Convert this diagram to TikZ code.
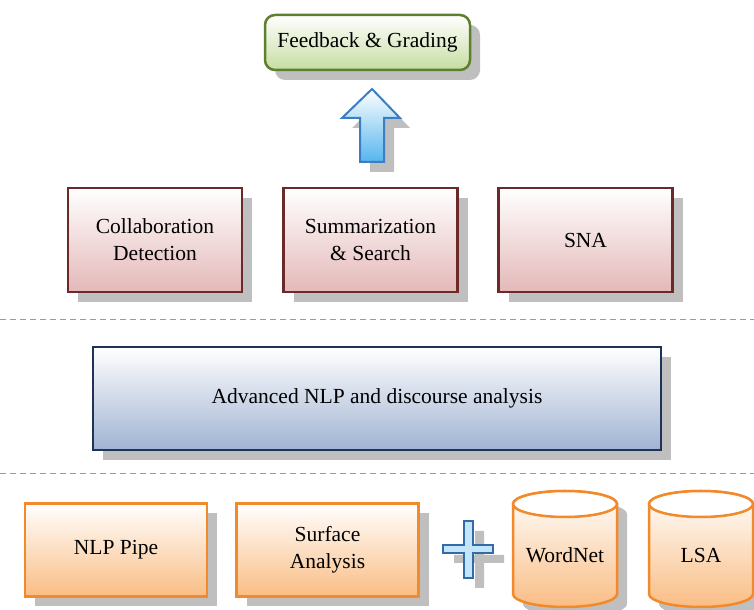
\documentclass[tikz,border=0pt]{standalone}
\usepackage{fontspec}
\setmainfont{Liberation Serif}
\usetikzlibrary{shadows}
\definecolor{shgray}{HTML}{BFBFBF}
\definecolor{grnB}{HTML}{5E7F30}
\definecolor{grnF}{HTML}{C6DDA2}
\definecolor{redB}{HTML}{6B2A2A}
\definecolor{redF}{HTML}{E4B8B8}
\definecolor{navB}{HTML}{1F3358}
\definecolor{navF}{HTML}{A0B3D2}
\definecolor{orgB}{HTML}{F2892A}
\definecolor{orgF}{HTML}{F9BD84}
\definecolor{bluB}{HTML}{3C7DC4}
\definecolor{bluF}{HTML}{55B5EE}
\definecolor{dashgray}{HTML}{9A9A9A}
\tikzset{
  lbl/.style={font=\fontsize{21.5bp}{27bp}\selectfont, align=center, text=black},
  shd/.style={drop shadow={shadow xshift=10bp, shadow yshift=-10bp, fill=shgray, opacity=1}},
  boxbase/.style={lbl, shd, rectangle, line width=2.5bp, inner sep=0pt},
  greenbox/.style={boxbase, draw=grnB, top color=white, bottom color=grnF, rounded corners=10bp},
  redbox/.style={boxbase, draw=redB, top color=white, bottom color=redF, minimum width=174bp, minimum height=104bp},
  navbox/.style={boxbase, draw=navB, top color=white, bottom color=navF},
  orgbox/.style={boxbase, draw=orgB, top color=white, bottom color=orgF, minimum width=182bp, minimum height=93bp},
  sep/.style={dashgray, line width=1bp, dash pattern=on 6bp off 4bp},
}
\begin{document}
\begin{tikzpicture}[x=1bp,y=1bp]
\useasboundingbox (0,0) rectangle (754,610);
% separators
\coordinate (s1a) at (0,290); \coordinate (s1b) at (754,290);
\coordinate (s2a) at (0,136); \coordinate (s2b) at (754,136);
\draw[sep] (s1a) -- (s1b);
\draw[sep] (s2a) -- (s2b);
% top
\node[greenbox, minimum width=205bp, minimum height=55bp] (fg) at (367.5,567.5) {Feedback \& Grading};
% arrow
\fill[shgray] (382,511) -- (410,482) -- (394,482) -- (394,438) -- (370,438) -- (370,482) -- (352,482) -- cycle;
\draw[line width=2bp, draw=bluB, top color=white, bottom color=bluF] (372,521) -- (400,492) -- (384,492) -- (384,448) -- (360,448) -- (360,492) -- (342,492) -- cycle;
% row 2
\node[redbox] (cd) at (155,370) {Collaboration\\Detection};
\node[redbox] (ss) at (370.5,370) {Summarization\\\& Search};
\node[redbox] (sna) at (585.5,370) {SNA};
% advanced
\node[navbox, minimum width=568bp, minimum height=103bp] (adv) at (377,211.5) {Advanced NLP and discourse analysis};
% bottom
\node[orgbox] (nlp) at (116,60) {NLP Pipe};
\node[orgbox] (sa) at (327.5,60) {Surface\\Analysis};
% plus sign
\fill[shgray] (475,79) -- (484,79) -- (484,55) -- (504,55) -- (504,47) -- (484,47) -- (484,22) -- (475,22) -- (475,47) -- (454,47) -- (454,55) -- (475,55) -- cycle;
\draw[line width=2bp, draw=bluB!85!black, fill=bluF!35] (464,89) -- (473,89) -- (473,65) -- (493,65) -- (493,57) -- (473,57) -- (473,32) -- (464,32) -- (464,57) -- (443,57) -- (443,65) -- (464,65) -- cycle;
% cylinders
\foreach \cx/\nm/\tx in {565/wn/WordNet, 701/lsa/LSA}{
  \fill[shgray] (\cx-42,96) -- (\cx-42,6) arc (180:360:52 and 13) -- (\cx+62,96) arc (0:180:52 and 13) -- cycle;
  \draw[line width=2.5bp, draw=orgB, top color=white, bottom color=orgF] (\cx-52,106) -- (\cx-52,16) arc (180:360:52 and 13) -- (\cx+52,106) arc (0:180:52 and 13) -- cycle;
  \draw[line width=2.5bp, draw=orgB, fill=white] (\cx,106) ellipse (52 and 13);
  \node[lbl] (\nm) at (\cx,55) {\tx};
}
\end{tikzpicture}
\end{document}
